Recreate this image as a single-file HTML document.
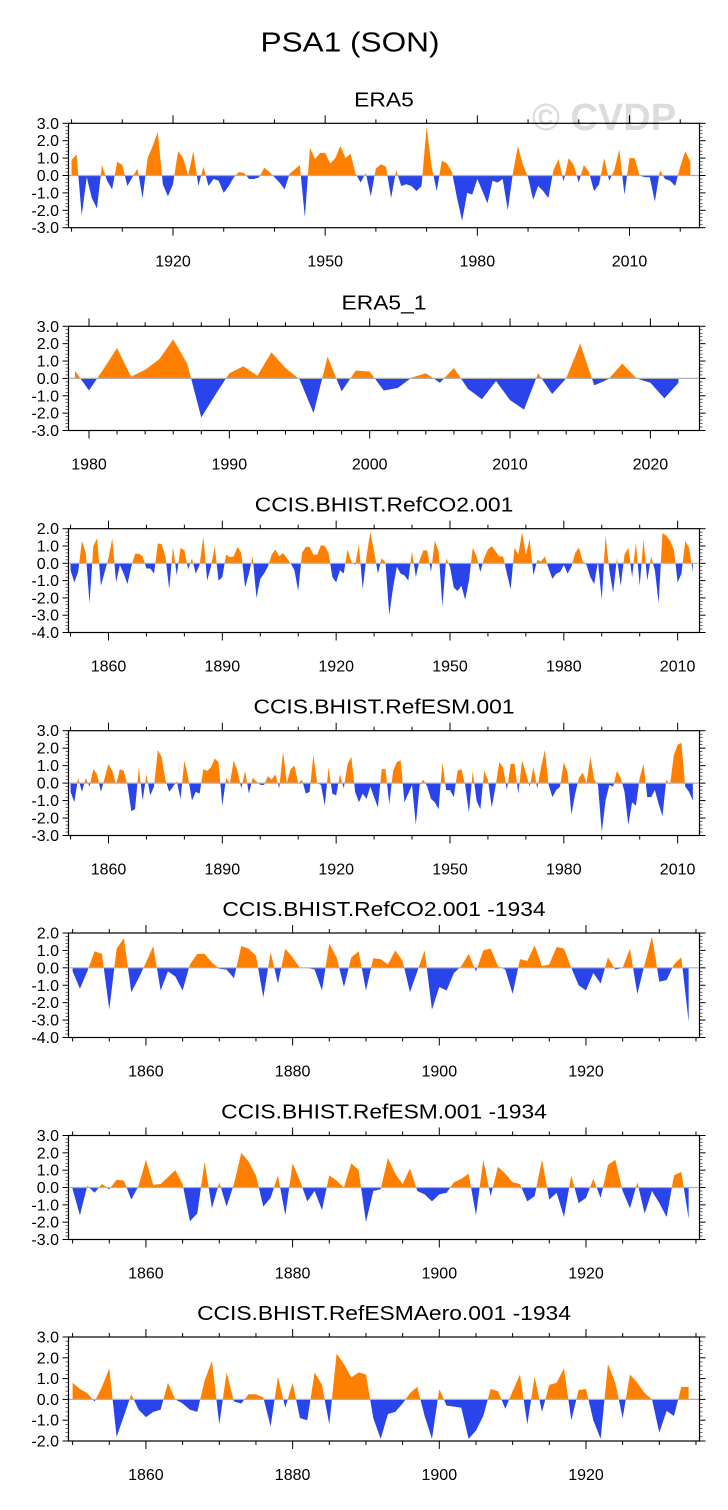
<!DOCTYPE html>
<html><head><meta charset="utf-8"><title>PSA1 (SON)</title>
<style>
html,body{margin:0;padding:0;background:#fff;}
svg{display:block;}
text{font-family:"Liberation Sans",Arial,sans-serif;fill:#000;}
</style></head>
<body>
<svg id="chart" width="728" height="1510" viewBox="0 0 728 1510" xmlns="http://www.w3.org/2000/svg">
<text id="maintitle" x="350" y="51.7" font-size="28" text-anchor="middle">PSA1 (SON)</text>
<text x="604" y="130" font-size="38" font-weight="bold" text-anchor="middle" style="fill:#dcdcdc">© CVDP</text>
</svg>
<script>
// ---- data arrays ----
const era5Start = 1900;
const era5Values = [0.9,1.2,-2.3,-0.1,-1.3,-1.9,0.6,-0.3,-0.8,0.8,
0.6,-0.6,-0.1,0.4,-1.3,1.0,1.7,2.5,-0.5,-1.2,
-0.5,1.4,1.0,0.0,1.4,-0.6,0.5,-0.6,-0.2,-0.3,
-1.0,-0.6,-0.1,0.2,0.15,-0.2,-0.2,-0.1,0.45,0.2,
-0.1,-0.4,-0.8,0.1,0.35,0.6,-2.4,1.6,0.95,1.3,
1.3,0.7,1.0,1.7,1.0,1.25,0.1,-0.4,0.15,-1.2,
0.4,0.65,0.5,-1.3,0.3,-0.6,-0.5,-0.6,-0.9,-0.6,
2.8,0.5,-0.9,0.85,0.7,0.2,-1.3,-2.6,-1.0,-1.1,
-0.2,-0.9,-1.6,-0.3,-0.4,-0.2,-2.0,0.1,1.7,0.6,
-0.1,-1.4,-0.6,-0.9,-1.3,0.3,0.95,-0.35,1.0,0.6,
-0.4,0.6,0.2,-0.9,-0.5,1.0,-0.3,0.3,1.5,-1.1,
1.0,1.0,0.0,-0.1,-0.1,-1.5,0.3,-0.2,-0.3,-0.6,
0.5,1.4,0.8];
const era5bStart = 1979;
const era5bValues = [0.45,-0.7,0.5,1.75,0.1,0.5,1.1,2.25,0.85,-2.25,
-0.95,0.3,0.7,0.15,1.5,0.6,-0.05,-2.0,1.25,-0.75,
0.45,0.4,-0.7,-0.55,0.05,0.3,-0.25,0.6,-0.6,-1.2,
-0.15,-1.25,-1.8,0.3,-0.9,0.0,2.0,-0.4,-0.05,0.85,
0.0,-0.25,-1.15,-0.25];
const co2Start = 1850;
const co2Values = [-0.4,-1.1,-0.5,1.3,0.6,-2.3,1.0,1.45,-1.3,-0.5,
0.3,1.45,-1.1,-0.1,-0.6,-1.2,-0.2,0.55,0.55,0.4,
-0.3,-0.3,-0.6,1.15,1.1,0.4,-1.5,0.95,-0.7,0.9,
0.75,-0.35,0.3,-0.6,-0.1,1.55,-1.0,-0.2,1.0,-1.0,
-0.8,0.5,0.35,0.4,0.95,0.6,-1.4,-0.6,0.4,-2.0,
-0.9,-0.6,-0.2,0.5,0.8,0.4,0.6,0.3,0.0,-0.4,
-1.6,0.6,0.95,0.95,0.5,0.5,1.05,1.0,0.6,-0.8,
-1.1,-0.4,-0.6,0.8,0.1,-0.1,1.1,-1.5,0.4,1.8,
0.7,-0.6,0.3,0.05,-3.0,-1.4,-0.2,-0.6,-0.7,-1.0,
0.7,-0.8,0.2,0.75,0.75,-0.5,1.3,0.7,-2.5,0.3,
-0.2,-1.4,-1.6,-1.3,-2.1,-1.0,0.9,0.4,-0.5,0.3,
0.8,1.0,0.7,0.4,0.4,-0.6,-1.5,0.9,0.5,1.8,
0.5,1.4,-0.7,0.2,0.1,0.4,-0.3,-0.9,-0.6,-0.5,
-0.1,-0.6,-0.2,0.6,0.9,0.1,-0.1,-0.8,-1.2,0.1,
-2.1,1.6,-0.4,-1.7,0.3,-1.3,0.5,0.9,-0.8,1.2,
-1.3,1.4,-1.0,0.4,-0.4,-2.3,1.75,1.6,1.3,0.8,
-1.1,-0.6,1.3,0.9,-0.5];
const esmStart = 1850;
const esmValues = [-0.5,-1.1,0.3,-0.5,0.3,-0.2,0.8,0.5,-0.5,0.3,
1.1,0.7,-0.1,0.8,0.7,-0.1,-1.6,-1.5,0.9,-1.0,
0.5,-0.7,-0.2,1.9,1.5,0.2,-0.5,-0.2,0.1,-0.9,
1.3,0.3,-1.0,-0.5,-0.6,0.8,0.7,0.9,1.4,1.2,
-1.3,0.3,0.0,1.3,0.7,-0.3,0.7,-0.6,0.3,0.1,
-0.1,-0.1,0.4,0.2,0.5,-0.3,1.8,0.0,0.8,1.0,
0.0,0.2,-0.6,-0.5,1.6,0.0,-0.1,-1.3,0.9,-0.6,
-0.7,0.5,-0.3,1.1,1.5,-0.5,-1.1,-0.6,-0.9,-0.2,
-0.8,-1.4,0.8,0.8,-1.2,0.7,1.2,1.3,-1.1,-0.6,
-0.1,-2.4,-0.1,0.2,-0.2,-0.9,-1.1,-1.5,1.2,-0.4,
-0.4,-0.8,0.7,0.8,-0.1,-1.7,0.7,-1.0,-1.5,0.7,
0.2,-1.4,-0.2,1.2,0.9,-0.4,1.1,1.1,-0.6,1.3,
0.6,-0.2,0.9,-0.3,0.9,1.9,-0.1,-0.8,-0.4,-0.2,
1.2,0.6,-1.8,-0.6,0.3,0.6,0.0,1.5,0.2,-0.1,
-2.8,-1.0,-0.1,-0.2,0.7,0.3,-0.5,-2.4,-1.1,-1.3,
0.3,1.1,-0.8,-0.8,-0.4,-1.2,-1.9,0.2,-0.1,1.6,
2.2,2.3,-0.2,-0.5,-1.0];
const co2sStart = 1850;
const co2sValues = [-0.2,-1.2,-0.2,0.95,0.8,-2.4,1.1,1.7,-1.4,-0.6,
0.3,1.25,-1.3,-0.2,-0.5,-1.3,0.2,0.8,0.8,0.3,
-0.05,-0.1,-0.6,1.25,1.1,0.7,-1.7,0.9,-0.9,1.1,
0.6,0.0,0.0,-0.1,-1.3,1.4,0.6,-1.1,0.6,0.95,
-1.3,0.55,0.5,0.2,1.0,0.4,-1.4,-0.2,1.0,-2.4,
-1.1,-1.3,-0.3,0.1,0.8,-0.2,1.0,1.1,0.1,-0.1,
-1.5,0.5,0.4,1.3,0.1,0.2,1.2,1.1,0.0,-1.0,
-1.3,-0.3,-0.9,0.6,-0.1,0.0,1.1,-1.5,0.2,1.8,
-0.8,-0.7,0.2,0.6,-3.1];
const esmsStart = 1850;
const esmsValues = [-0.1,-1.6,0.1,-0.3,0.2,-0.1,0.45,0.4,-0.7,0.1,
1.6,0.15,0.2,0.6,1.0,0.2,-1.95,-1.5,1.5,-1.2,
0.3,-1.1,0.2,2.0,1.5,0.7,-1.1,-0.6,0.7,-1.6,
1.4,0.4,-0.8,-0.2,-1.3,0.7,0.4,0.0,1.4,1.0,
-2.0,-0.2,-0.1,1.7,0.8,0.2,1.1,-0.2,-0.4,-0.8,
-0.4,-0.3,0.3,0.5,0.8,-1.6,1.6,-0.5,1.2,0.8,
0.3,0.2,-0.8,-0.5,1.6,-0.7,-0.3,-1.7,0.7,-0.9,
-0.6,0.5,-0.6,1.3,1.6,-0.2,-1.2,0.3,-1.5,-0.2,
-0.9,-1.7,0.7,0.9,-1.8];
const aeroStart = 1850;
const aeroValues = [0.8,0.5,0.3,-0.1,0.6,1.5,-1.8,-0.8,0.25,-0.5,
-0.85,-0.6,-0.5,0.8,0.0,-0.2,-0.5,-0.6,0.9,1.85,
-1.2,1.3,-0.1,-0.2,0.25,0.25,0.1,-1.3,1.1,-0.4,
0.8,-0.9,-1.0,1.3,0.7,-1.2,2.2,1.7,1.05,1.3,
1.2,-0.9,-1.9,-0.7,-0.6,-0.2,0.3,0.6,-0.8,-1.9,
0.5,-0.3,-0.35,-0.4,-1.9,-1.5,-0.8,0.5,0.4,-0.45,
0.4,1.2,-1.2,1.1,-0.6,0.7,0.8,1.5,-1.0,0.45,
0.5,-1.0,-1.9,1.7,0.8,-0.9,1.2,0.8,0.3,0.0,
-1.6,-0.55,-0.8,0.6,0.6];

// tick label arrays
const yTicks33 = [3,2,1,0,-1,-2,-3];
const yTicks42 = [2,1,0,-1,-2,-3,-4];
const yTicks32 = [3,2,1,0,-1,-2];
const xTicksEra5 = [1920,1950,1980,2010];
const xTicksEra5b = [1980,1990,2000,2010,2020];
const xTicksLong = [1860,1890,1920,1950,1980,2010];
const xTicksShort = [1860,1880,1900,1920];

const panels = [
 {name:'era5', title:'ERA5', start:era5Start, vals:era5Values, top:123.3, bot:227.7, ymin:-3, ymax:3, yt:yTicks33, x0:1899.4, x1:2023.8, xt:xTicksEra5, minor:10, first:1900},
 {name:'era5-1', title:'ERA5_1', start:era5bStart, vals:era5bValues, top:326.3, bot:430.5, ymin:-3, ymax:3, yt:yTicks33, x0:1978.54, x1:2023.5, xt:xTicksEra5b, minor:2, first:1980},
 {name:'refco2', title:'CCIS.BHIST.RefCO2.001', start:co2Start, vals:co2Values, top:528.7, bot:632.5, ymin:-4, ymax:2, yt:yTicks42, x0:1849.46, x1:2015.76, xt:xTicksLong, minor:10, first:1850},
 {name:'refesm', title:'CCIS.BHIST.RefESM.001', start:esmStart, vals:esmValues, top:730.7, bot:835.5, ymin:-3, ymax:3, yt:yTicks33, x0:1849.46, x1:2015.76, xt:xTicksLong, minor:10, first:1850},
 {name:'refco2-1934', title:'CCIS.BHIST.RefCO2.001 -1934', start:co2sStart, vals:co2sValues, top:933, bot:1037.5, ymin:-4, ymax:2, yt:yTicks42, x0:1849.44, x1:1935.48, xt:xTicksShort, minor:5, first:1850},
 {name:'refesm-1934', title:'CCIS.BHIST.RefESM.001 -1934', start:esmsStart, vals:esmsValues, top:1135.5, bot:1239.5, ymin:-3, ymax:3, yt:yTicks33, x0:1849.44, x1:1935.48, xt:xTicksShort, minor:5, first:1850},
 {name:'refesmaero-1934', title:'CCIS.BHIST.RefESMAero.001 -1934', start:aeroStart, vals:aeroValues, top:1337, bot:1441, ymin:-2, ymax:3, yt:yTicks32, x0:1849.44, x1:1935.48, xt:xTicksShort, minor:5, first:1850}
];

const NS = 'http://www.w3.org/2000/svg';
const svg = document.getElementById('chart');
const mt = document.getElementById('maintitle');
mt.setAttribute('textLength','179');
mt.setAttribute('lengthAdjust','spacingAndGlyphs');
const L = 68.5, R = 699.5;
function mk(tag, attrs, parent){
  const e = document.createElementNS(NS, tag);
  for (const k in attrs) e.setAttribute(k, attrs[k]);
  (parent||svg).appendChild(e);
  return e;
}
function fmt(v){ return v.toFixed(1); }

panels.forEach((p, pi) => {
  const g = mk('g', {});
  
  
  const xs = yr => L + (yr - p.x0) / (p.x1 - p.x0) * (R - L);
  const ys = v => p.bot - (v - p.ymin) / (p.ymax - p.ymin) * (p.bot - p.top);
  const y0 = ys(0);
  const defs = mk('defs', {}, g);
  const cu = mk('clipPath', {id:'cu'+pi}, defs);
  mk('rect', {x:L, y:p.top, width:R-L, height:y0-p.top}, cu);
  const cd = mk('clipPath', {id:'cd'+pi}, defs);
  mk('rect', {x:L, y:y0, width:R-L, height:p.bot-y0}, cd);
  let d = 'M' + xs(p.start).toFixed(2) + ',' + y0.toFixed(2);
  p.vals.forEach((v, i) => { d += ' L' + xs(p.start + i).toFixed(2) + ',' + ys(v).toFixed(2); });
  d += ' L' + xs(p.start + p.vals.length - 1).toFixed(2) + ',' + y0.toFixed(2) + ' Z';
  const up = mk('path', {d:d, fill:'#ff8000', 'clip-path':'url(#cu'+pi+')'}, g);
  
  
  const dn = mk('path', {d:d, fill:'#2844ea', 'clip-path':'url(#cd'+pi+')'}, g);
  
  
  const zl = mk('line', {x1:L, x2:R, y1:y0, y2:y0, stroke:'#b0b0b0', 'stroke-width':1.2}, g);
  
  
  const fr = mk('rect', {x:L, y:p.top, width:R-L, height:p.bot-p.top, fill:'none', stroke:'#000', 'stroke-width':1.2}, g);
  
  
  for (let k = Math.round(p.ymin*5); k <= Math.round(p.ymax*5); k++) {
    const v = k/5, yy = ys(v), major = (k % 5 === 0);
    const len = major ? 6 : 3;
    mk('line', {x1:L-len, x2:L, y1:yy, y2:yy, stroke:'#000', 'stroke-width':major?1:0.6}, g);
    mk('line', {x1:R, x2:R+len, y1:yy, y2:yy, stroke:'#000', 'stroke-width':major?1:0.6}, g);
  }
  p.yt.forEach(v => {
    const t = mk('text', {x:59, y:(ys(v)+5.5).toFixed(1), 'font-size':16, 'text-anchor':'end'}, g);
    t.textContent = fmt(v);
    
    
  });
  for (let yr = p.first; yr <= p.x1; yr += p.minor) {
    if (yr < p.x0) continue;
    const xx = xs(yr);
    const major = p.xt.indexOf(yr) >= 0;
    const len = major ? 8 : 4;
    mk('line', {x1:xx, x2:xx, y1:p.bot, y2:p.bot+len, stroke:'#000', 'stroke-width':1}, g);
    mk('line', {x1:xx, x2:xx, y1:p.top-len, y2:p.top, stroke:'#000', 'stroke-width':1}, g);
  }
  p.xt.forEach(yr => {
    const t = mk('text', {x:xs(yr).toFixed(1), y:(p.bot+39).toFixed(1), 'font-size':16, 'text-anchor':'middle'}, g);
    t.textContent = String(yr);
    
    
  });
  const tt = mk('text', {x:384, y:(p.top-17).toFixed(1), 'font-size':20, 'text-anchor':'middle'}, g);
  tt.textContent = p.title;
  
  
  const w = tt.getComputedTextLength();
  if (w > 0) { tt.setAttribute('textLength', (w*1.14).toFixed(1)); tt.setAttribute('lengthAdjust','spacingAndGlyphs'); }
});
</script>
</body></html>
